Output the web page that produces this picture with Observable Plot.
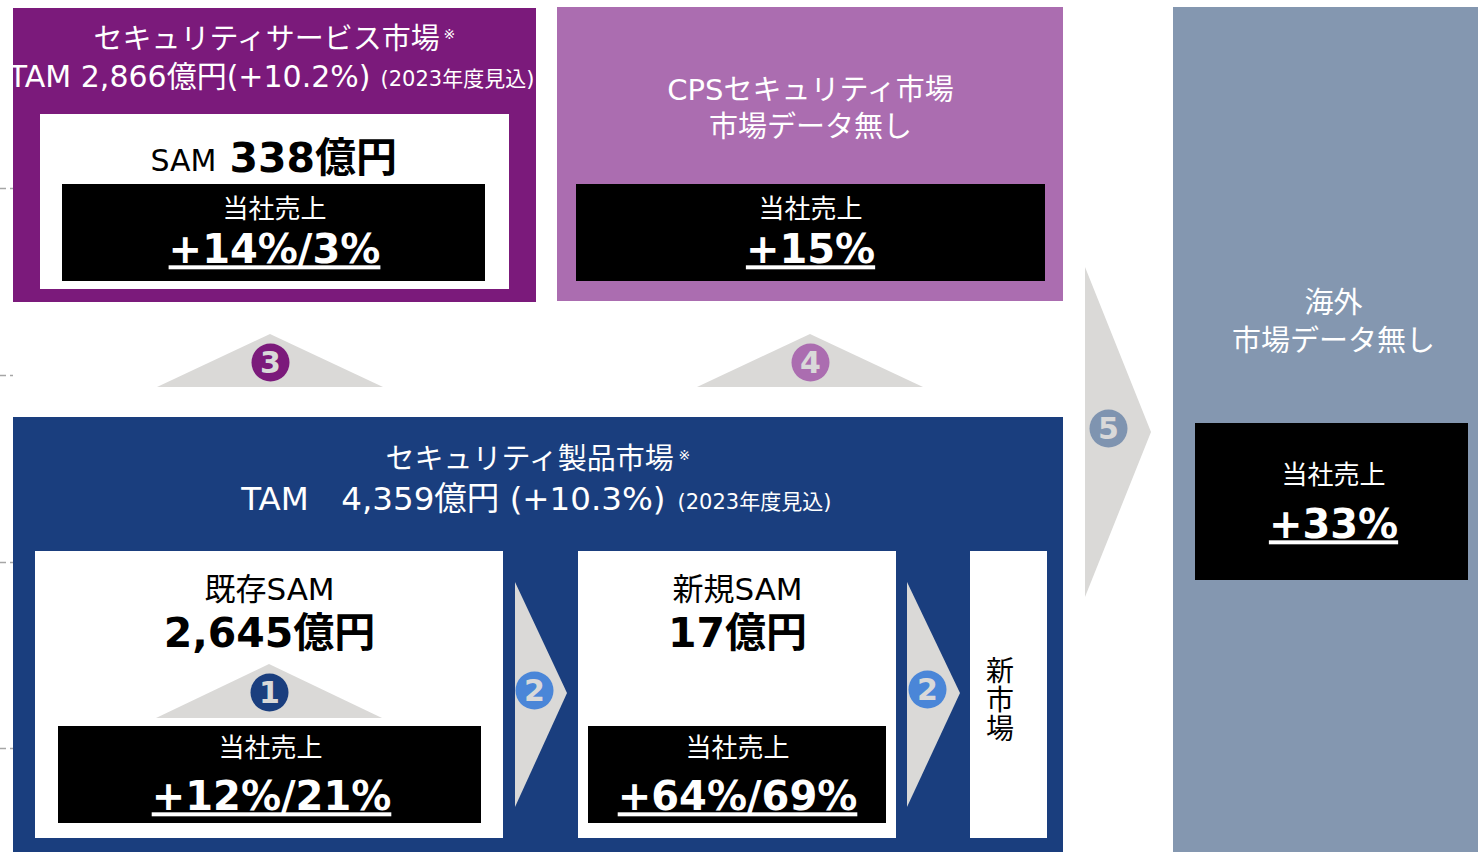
<!DOCTYPE html>
<html><head><meta charset="utf-8">
<script src="https://cdn.jsdelivr.net/npm/d3@7"></script>
<script src="https://cdn.jsdelivr.net/npm/@observablehq/plot@0.6"></script>
<style>html,body{margin:0;padding:0;background:#fff;overflow:hidden}#chart svg{display:block}</style>
</head><body><div id="chart"></div>
<script>
// ---- content (data) ----
const markets = ["セキュリティサービス市場", "CPSセキュリティ市場", "セキュリティ製品市場", "海外"];
const tamValues = ["2,866億円(+10.2%)", "4,359億円 (+10.3%)"];
const tamNote = "(2023年度見込)";
const noData = "市場データ無し";
const samLabels = ["SAM", "既存SAM", "新規SAM"];
const samValues = ["338億円", "2,645億円", "17億円"];
const salesLabel = "当社売上";
const salesGrowth = ["+14%/3%", "+15%", "+12%/21%", "+64%/69%", "+33%"];
const steps = ["3", "4", "1", "2", "2", "5"];
const newMarket = "新市場";

// ---- layout ----
const C = {purple:"#7B1A7B", lilac:"#AB6DB0", navy:"#1A3E7E", slate:"#8497B0", blue2:"#4A86D8", gray:"#DAD9D7", black:"#000000", white:"#FFFFFF"};
const FONT = "DejaVu Sans, 'Noto Sans CJK JP', sans-serif";

const rects = [
  {x1:13, x2:536, y1:8, y2:302, fill:C.purple},
  {x1:40, x2:509, y1:114, y2:289, fill:C.white},
  {x1:62, x2:485, y1:184, y2:281, fill:C.black},
  {x1:557, x2:1063, y1:7, y2:301, fill:C.lilac},
  {x1:576, x2:1045, y1:184, y2:281, fill:C.black},
  {x1:13, x2:1063, y1:417, y2:852, fill:C.navy},
  {x1:35, x2:503, y1:551, y2:838, fill:C.white},
  {x1:58, x2:481, y1:726, y2:823, fill:C.black},
  {x1:578, x2:896, y1:551, y2:838, fill:C.white},
  {x1:588, x2:886, y1:726, y2:823, fill:C.black},
  {x1:970, x2:1047, y1:551, y2:838, fill:C.white},
  {x1:1173, x2:1478, y1:7, y2:852, fill:C.slate},
  {x1:1195, x2:1468, y1:423, y2:580, fill:C.black}
];

// up-pointing triangles
const upTri = [{id:"t3", cx:270, base:387, top:334, half:113}, {id:"t4", cx:810, base:387, top:334, half:113}, {id:"t1", cx:269, base:718, top:664, half:113}];
const upPts = upTri.flatMap(t => [
  {id:t.id, x:t.cx - t.half, y1:t.base, y2:t.base},
  {id:t.id, x:t.cx, y1:t.base, y2:t.top},
  {id:t.id, x:t.cx + t.half, y1:t.base, y2:t.base}
]);
// right-pointing arrows
const rightTri = [{id:"r2a", left:515, apex:567, top:582, mid:693, bottom:807}, {id:"r2b", left:907, apex:960, top:582, mid:693, bottom:807}, {id:"r5", left:1085, apex:1151, top:267, mid:432, bottom:597}];
const rightPts = rightTri.flatMap(t => [
  {id:t.id, y:t.top, x1:t.left, x2:t.left},
  {id:t.id, y:t.mid, x1:t.left, x2:t.apex},
  {id:t.id, y:t.bottom, x1:t.left, x2:t.left}
]);

const circlePos = [
  {x:270, y:362, fill:C.purple}, {x:810, y:362, fill:C.lilac}, {x:269, y:692, fill:C.navy},
  {x:534, y:690, fill:C.blue2}, {x:927, y:689, fill:C.blue2}, {x:1108, y:428, fill:"#7F94B0"}
];
const circles = circlePos.map((p, i) => ({...p, label: steps[i]}));

const dashY = [188, 375, 562, 748];

// text tables
const whiteTitles = [
  {x:266, y:39, t:markets[0], anchor:"middle", size:29},
  {x:370, y:77, t:"TAM " + tamValues[0], anchor:"end", size:30},
  {x:810, y:90, t:markets[1], anchor:"middle", size:29},
  {x:810, y:127, t:noData, anchor:"middle", size:29},
  {x:529, y:459, t:markets[2], anchor:"middle", size:29},
  {x:665, y:499, t:"TAM\u3000" + tamValues[1], anchor:"end", size:32.5},
  {x:1333, y:303, t:markets[3], anchor:"middle", size:29},
  {x:1333, y:341, t:noData, anchor:"middle", size:29}
];
const notes = [
  {x:380, y:79, t:tamNote}, {x:677, y:502, t:tamNote}
];
const marks = [{x:443, y:34}, {x:678, y:455}];
const salesLbl = [{x:274, y:209}, {x:810, y:209}, {x:270, y:748}, {x:737, y:748}, {x:1333, y:475}];
const salesPos = [{x:274, y:250}, {x:810, y:250}, {x:271, y:797}, {x:737, y:797}, {x:1333, y:525}];
const sales = salesPos.map((p, i) => ({...p, t: salesGrowth[i]}));
const samLbl = [
  {x:216, y:161, t:samLabels[0], anchor:"end", size:30},
  {x:269, y:590, t:samLabels[1], anchor:"middle", size:31},
  {x:737, y:590, t:samLabels[2], anchor:"middle", size:31}
];
const samVal = [
  {x:229, y:158, t:samValues[0], anchor:"start"},
  {x:269, y:633, t:samValues[1], anchor:"middle"},
  {x:737, y:633, t:samValues[2], anchor:"middle"}
];
const vert = [{x:997, y:690, t:newMarket}];

const txt = (data, o) => Plot.text(data, {x:"x", y:"y", text:"t", fontFamily:FONT, ...o});

const svg = Plot.plot({
  width: 1478, height: 852, margin: 0,
  x: {domain:[0,1478], range:[0,1478], axis:null},
  y: {domain:[0,852], range:[0,852], axis:null},
  color: {type:"identity"},
  style: {background:"#fff", fontFamily: FONT},
  marks: [
    Plot.ruleY(dashY, {x1:0, x2:13, y:d => d, stroke:"#A6A6A6", strokeWidth:1.5, strokeDasharray:"6,4"}),
    Plot.rect(rects, {x1:"x1", x2:"x2", y1:"y1", y2:"y2", fill:"fill"}),
    Plot.areaY(upPts, {x:"x", y1:"y1", y2:"y2", z:"id", fill:C.gray, curve:"linear"}),
    Plot.areaX(rightPts, {y:"y", x1:"x1", x2:"x2", z:"id", fill:C.gray, curve:"linear"}),
    Plot.dot(circles, {x:"x", y:"y", r:19, fill:"fill", stroke:null}),
    Plot.text(circles, {x:"x", y:"y", text:"label", fill:"#D9D9D9", fontSize:30, fontWeight:"bold", fontFamily:FONT, dy:1}),
    ...whiteTitles.map(d => txt([d], {fill:"white", fontSize:d.size, textAnchor:d.anchor})),
    txt(notes, {fill:"white", fontSize:21, textAnchor:"start"}),
    Plot.text(marks, {x:"x", y:"y", text:() => "※", fill:"white", fontSize:14, textAnchor:"start", fontFamily:FONT}),
    txt(salesLbl.map(p => ({...p, t:salesLabel})), {fill:"white", fontSize:26}),
    txt(sales, {fill:"white", fontSize:40, fontWeight:"bold"}),
    ...samLbl.map(d => txt([d], {fill:"black", fontSize:d.size, textAnchor:d.anchor})),
    ...samVal.map(d => txt([d], {fill:"black", fontSize:41, fontWeight:"bold", textAnchor:d.anchor})),
    txt(vert, {fill:"black", fontSize:28})
  ]
});
const root = d3.select(svg);
root.selectAll("text").filter(function() { return salesGrowth.includes(this.textContent); })
  .style("text-decoration", "underline");
root.selectAll("text").filter(function() { return this.textContent === newMarket; })
  .attr("dy", "0").style("writing-mode", "vertical-rl").attr("letter-spacing", "1");
document.getElementById("chart").appendChild(svg);
</script>
</body></html>
